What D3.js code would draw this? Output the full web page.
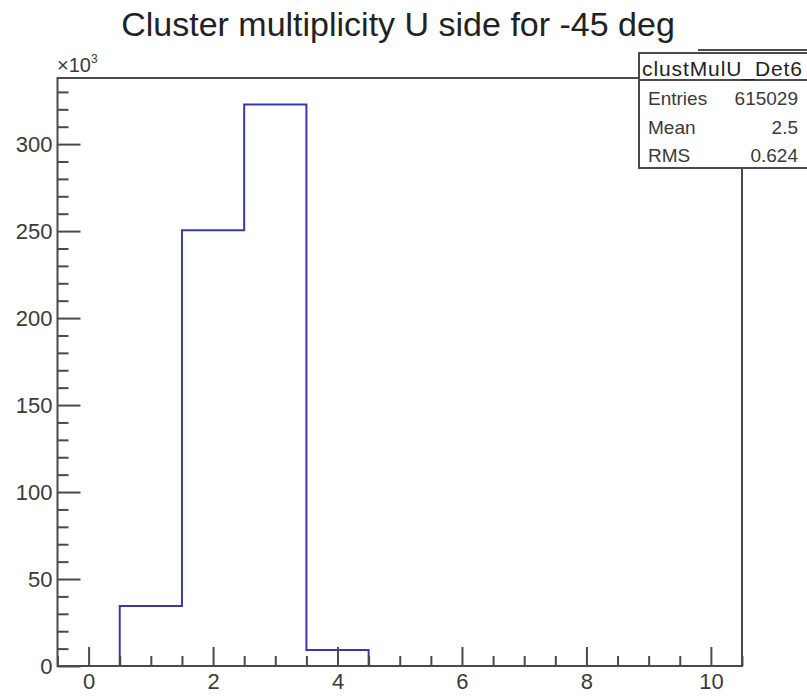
<!DOCTYPE html>
<html><head><meta charset="utf-8">
<script src="https://cdn.jsdelivr.net/npm/d3@7"></script>
<style>
html,body{margin:0;padding:0;background:#fff;}
svg{display:block;font-family:"Liberation Sans",Arial,sans-serif;}
</style></head>
<body>
<script>
// Data (counts in units of 10^3), bins of width 1 centred on integers 0..10
const binCenters = [0,1,2,3,4,5,6,7,8,9,10];
const counts = [0, 34.5, 250.5, 322.8, 9.2, 0, 0, 0, 0, 0, 0];
const xTickValues = [0,2,4,6,8,10];
const yTickValues = [0,50,100,150,200,250,300];
const titleText = "Cluster multiplicity U side for -45 deg";
const statsName = "clustMulU_Det6";
const statsRows = [["Entries","615029"],["Mean","2.5"],["RMS","0.624"]];

const W = 807, H = 697;
const svg = d3.select("body").append("svg").attr("width", W).attr("height", H);

const x = d3.scaleLinear().domain([-0.5, 10.5]).range([57.5, 742]);
const y = d3.scaleLinear().domain([0, 338]).range([666, 78]);

const axisColor = "#4a4a4a";
const labelColor = "#3a3a3a";

// Title
svg.append("text").attr("x", 398).attr("y", 36).attr("text-anchor", "middle")
  .attr("font-size", 34).attr("fill", "#222").text(titleText);

// Histogram step line
const pts = [];
binCenters.forEach((c, i) => {
  pts.push([x(c - 0.5), y(counts[i])]);
  pts.push([x(c + 0.5), y(counts[i])]);
});
svg.append("path")
  .attr("d", "M" + x(-0.5) + "," + y(0) + "L" + pts.map(p => p.join(",")).join("L") + "L" + x(10.5) + "," + y(0))
  .attr("fill", "none").attr("stroke", "#3838ac").attr("stroke-width", 2);

// Y axis minor ticks
const yMinor = d3.range(0, 338, 10).filter(v => v % 50 !== 0);
svg.append("g").attr("transform", `translate(${x(-0.5)},0)`)
  .call(d3.axisLeft(y).tickValues(yMinor).tickSize(-11).tickFormat(""))
  .call(g => g.select(".domain").remove())
  .call(g => g.selectAll("line").attr("stroke", axisColor).attr("stroke-width", 2));
// Y axis major
svg.append("g").attr("transform", `translate(${x(-0.5)},0)`)
  .call(d3.axisLeft(y).tickValues(yTickValues).tickSize(-23).tickPadding(5))
  .call(g => g.select(".domain").remove())
  .call(g => g.selectAll("line").attr("stroke", axisColor).attr("stroke-width", 2))
  .call(g => g.selectAll("text").attr("font-size", 22).attr("fill", labelColor)
    .attr("font-family", "Liberation Sans, Arial, sans-serif"));

// X axis minor ticks
const xMinor = d3.range(-0.5, 10.51, 0.5).filter(v => v % 2 !== 0);
svg.append("g").attr("transform", `translate(0,${y(0)})`)
  .call(d3.axisBottom(x).tickValues(xMinor).tickSize(-10).tickFormat(""))
  .call(g => g.select(".domain").remove())
  .call(g => g.selectAll("line").attr("stroke", axisColor).attr("stroke-width", 2));
// X axis major
svg.append("g").attr("transform", `translate(0,${y(0)})`)
  .call(d3.axisBottom(x).tickValues(xTickValues).tickSize(-19).tickPadding(7))
  .call(g => g.select(".domain").remove())
  .call(g => g.selectAll("line").attr("stroke", axisColor).attr("stroke-width", 2))
  .call(g => g.selectAll("text").attr("font-size", 22).attr("fill", labelColor)
    .attr("font-family", "Liberation Sans, Arial, sans-serif"));

// Frame
svg.append("rect").attr("x", x(-0.5)).attr("y", y(338))
  .attr("width", x(10.5) - x(-0.5)).attr("height", y(0) - y(338))
  .attr("fill", "none").attr("stroke", axisColor).attr("stroke-width", 2);

// Exponent label
const ex = svg.append("text").attr("x", 57).attr("y", 72).attr("font-size", 20).attr("fill", labelColor);
ex.append("tspan").text("\u00d710");
ex.append("tspan").attr("font-size", 12).attr("dy", -9).text("3");

// Stats box
const bx = 639, by = 53, bw = 180, bh = 115;
svg.append("rect").attr("x", bx).attr("y", by).attr("width", bw).attr("height", bh)
  .attr("fill", "#fff").attr("stroke", axisColor).attr("stroke-width", 2);
svg.append("line").attr("x1", 698).attr("x2", 810).attr("y1", 50).attr("y2", 50)
  .attr("stroke", axisColor).attr("stroke-width", 2);
svg.append("line").attr("x1", bx).attr("x2", bx + bw).attr("y1", 80).attr("y2", 80)
  .attr("stroke", axisColor).attr("stroke-width", 2);
svg.append("text").attr("x", 722).attr("y", 76).attr("text-anchor", "middle")
  .attr("font-size", 21).attr("fill", "#222").attr("textLength", 160).text(statsName);
statsRows.forEach((r, i) => {
  const yy = 105 + i * 28.5;
  svg.append("text").attr("x", 648).attr("y", yy).attr("font-size", 19).attr("fill", labelColor).text(r[0]);
  svg.append("text").attr("x", 798).attr("y", yy).attr("text-anchor", "end").attr("font-size", 19).attr("fill", labelColor).text(r[1]);
});
</script>
</body></html>
